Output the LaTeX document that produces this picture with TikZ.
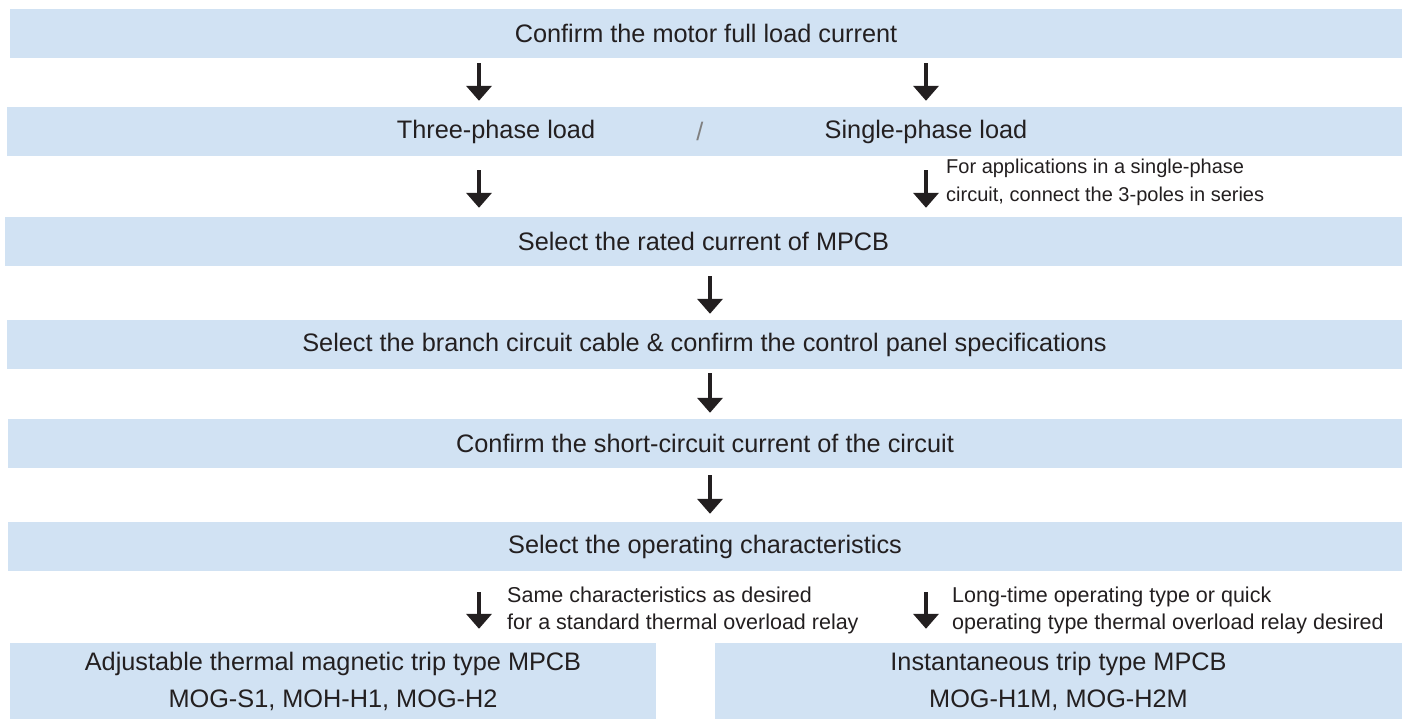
\documentclass[tikz,border=0pt]{standalone}
\usepackage{fontspec}
\setmainfont{Liberation Sans}
\definecolor{bandcolor}{HTML}{D1E2F3}
\definecolor{inkcolor}{HTML}{231F20}
\usetikzlibrary{arrows.meta,positioning}
\tikzset{
	band/.style={
		rectangle,
		fill=bandcolor,
		inner sep=0pt,
		minimum height=49pt,
		text=inkcolor,
		font=\fontsize{25.3}{30}\selectfont
	},
	outbox/.style={
		rectangle,
		fill=bandcolor,
		inner sep=0pt,
		minimum height=76pt,
		align=center,
		text=inkcolor,
		font=\fontsize{25.3}{37}\selectfont
	},
	phasetext/.style={
		inner sep=0pt,
		text=inkcolor,
		font=\fontsize{25.3}{30}\selectfont
	},
	note/.style={
		anchor=west,
		align=left,
		inner sep=0pt,
		text=inkcolor,
		font=\fontsize{20}{28}\selectfont
	},
	arrow/.style={
		draw=inkcolor,
		line width=4.8pt,
		-{Triangle[width=25pt,length=15pt]},
		shorten <=5pt,
		shorten >=6pt
	},
}

\begin{document}
\begin{tikzpicture}[x=1pt,y=1pt]
			\useasboundingbox (0,0) rectangle (1402,-719);
			\coordinate (left) at (479,0);
			\coordinate (right) at (926,0);
			\coordinate (mid) at (710,0);
			\node[band,minimum width=1392pt] (motor) at (706,-33.5) {Confirm the motor full load current};
			\node[band,minimum width=1395pt] (phase) at (704.5,-131.5) {};
			\node[phasetext] (three) at (496,-131.5) {Three-phase load};
			\node[phasetext,text=gray] (slash) at (700,-131.5) {/};
			\node[phasetext] (single) at (926,-131.5) {Single-phase load};
			\node[band,minimum width=1397pt] (rated) at (703.5,-241.5) {Select the rated current of MPCB};
			\node[band,minimum width=1395pt] (cable) at (704.5,-344.5) {Select the branch circuit cable \& confirm the control panel specifications};
			\node[band,minimum width=1394pt] (short) at (705,-443.5) {Confirm the short-circuit current of the circuit};
			\node[band,minimum width=1394pt] (oper) at (705,-546.5) {Select the operating characteristics};
			\node[outbox,minimum width=646pt] (thermal) at (333,-681) {Adjustable thermal magnetic trip type MPCB\\MOG-S1, MOH-H1, MOG-H2};
			\node[outbox,minimum width=687pt] (instant) at (1058.5,-681) {Instantaneous trip type MPCB\\MOG-H1M, MOG-H2M};
			\node[note] (singlenote) at (946,-182) {For applications in a single-phase\\circuit, connect the 3-poles in series};
			\node[note,font=\fontsize{21.5}{27}\selectfont] (samenote) at (507,-610) {Same characteristics as desired\\for a standard thermal overload relay};
			\node[note,font=\fontsize{21.5}{27}\selectfont] (longnote) at (952,-610) {Long-time operating type or quick\\operating type thermal overload relay desired};
			\draw[arrow] (motor.south -| left) -- (phase.north -| left);
			\draw[arrow] (motor.south -| right) -- (phase.north -| right);
			\draw[arrow,shorten <=14pt,shorten >=9pt] (phase.south -| left) -- (rated.north -| left);
			\draw[arrow,shorten <=14pt,shorten >=9pt] (phase.south -| right) -- (rated.north -| right);
			\draw[arrow,shorten <=10pt] (rated.south -| mid) -- (cable.north -| mid);
			\draw[arrow,shorten <=4pt] (cable.south -| mid) -- (short.north -| mid);
			\draw[arrow,shorten <=7pt,shorten >=8pt] (short.south -| mid) -- (oper.north -| mid);
			\draw[arrow,shorten <=21pt,shorten >=14pt] (oper.south -| left) -- (thermal.north -| left);
			\draw[arrow,shorten <=21pt,shorten >=14pt] (oper.south -| right) -- (instant.north -| right);
\end{tikzpicture}
\end{document}
